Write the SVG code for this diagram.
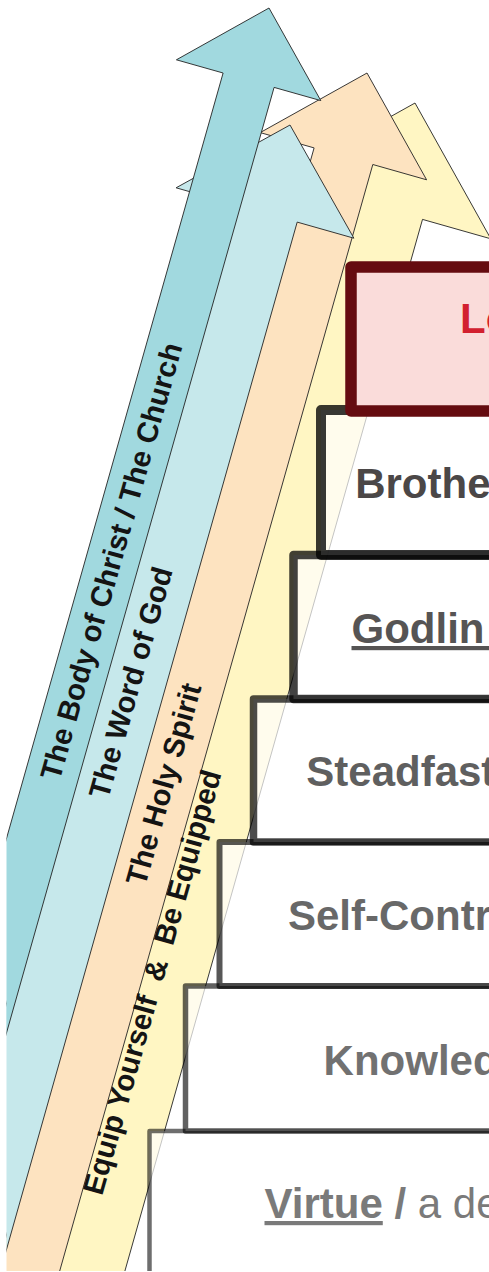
<svg xmlns="http://www.w3.org/2000/svg" width="489" height="1272" viewBox="0 0 489 1272">
<style>
.arr{stroke:#222;stroke-width:0.9;stroke-linejoin:miter}
.lbl{font-family:"Liberation Sans",Arial,sans-serif;font-weight:bold;font-size:29.5px;fill:#141414}
.box{fill:#fff;fill-opacity:0.7;stroke:#000;stroke-linejoin:round}
.bt{font-family:"Liberation Sans",Arial,sans-serif;font-weight:bold;font-size:42px}
.ul{text-decoration:underline}
</style>
<defs>
<clipPath id="clip"><rect x="6.5" y="0" width="483" height="1271"/></clipPath>
</defs>
<rect width="489" height="1272" fill="#fff"/>
<g clip-path="url(#clip)">
<g id="connectors">
<g id="arrow-equip">
<polygon class="arr" fill="#FFF6C3" points="415,103 490.8,238.8 422.5,219.4 88.4,1400 7.4,1400 347.5,198.2 279.2,178.8"/>
</g>
<g id="arrow-spirit">
<polygon class="arr" fill="#FDE3C0" points="367,73 426.6,179.8 372.8,164.5 23.2,1400 -40.2,1400 314.1,147.9 260.2,132.6"/>
</g>
<g id="arrow-word">
<polygon class="arr" fill="#C6E8EB" points="290,125 353.9,238.2 297.2,222.1 -36.1,1400 -105.7,1400 232.8,203.9 176.1,187.8"/>
</g>
<g id="arrow-body">
<polygon class="arr" fill="#A1D9DF" points="269,8 320.8,100.6 274.1,87.4 -97.4,1400 -152.4,1400 223.1,73 176.4,59.8"/>
</g>
<text class="lbl" transform="translate(59.5,781.5) rotate(-74.2)">The Body of Christ / The Church</text>
<text class="lbl" transform="translate(108,800) rotate(-74.2)">The Word of God</text>
<text class="lbl" transform="translate(145,887) rotate(-74.2)">The Holy Spirit</text>
<text class="lbl" xml:space="preserve" style="white-space:pre" transform="translate(102,1196.5) rotate(-74.2)">Equip Yourself  &amp;  Be Equipped</text>
</g>
<g id="virtue">
<rect class="box" x="149.5" y="1131" width="420" height="220" stroke-width="4.5" stroke-opacity="0.57"/>
<text class="bt" x="264.5" y="1218" fill="#7a7a7a"><tspan class="ul">Virtue</tspan> / <tspan font-weight="normal">a de</tspan></text>
</g>
<g id="knowledge">
<rect class="box" x="185.5" y="986" width="420" height="145" stroke-width="5.5" stroke-opacity="0.62"/>
<text class="bt" x="323.6" y="1075" fill="#717171">Knowled</text>
</g>
<g id="self-control">
<rect class="box" x="219.5" y="842" width="420" height="144" stroke-width="6" stroke-opacity="0.66"/>
<text class="bt" x="288" y="930" fill="#686868">Self-Contr</text>
</g>
<g id="steadfastness">
<rect class="box" x="253.5" y="699" width="420" height="143" stroke-width="7.5" stroke-opacity="0.7"/>
<text class="bt" x="306.3" y="786" fill="#5f5f5f">Steadfast</text>
</g>
<g id="godliness">
<rect class="box" x="293.5" y="555" width="420" height="144" stroke-width="8.5" stroke-opacity="0.74"/>
<text class="bt" x="351.5" y="643" fill="#565454" xml:space="preserve" style="white-space:pre"><tspan class="ul">Godlin </tspan></text>
</g>
<g id="brotherly">
<rect class="box" x="321" y="410" width="420" height="145" stroke-width="10" stroke-opacity="0.78"/>
<text class="bt" x="355.2" y="498" fill="#4b4747">Brothe</text>
</g>
<g id="love">
<rect x="351" y="267" width="420" height="144" fill="#FADCDA" stroke="#650C10" stroke-width="11.5" stroke-linejoin="round"/>
<text class="bt" x="460" y="333" fill="#D2202F">Lo</text>
</g>
</g>
</svg>
